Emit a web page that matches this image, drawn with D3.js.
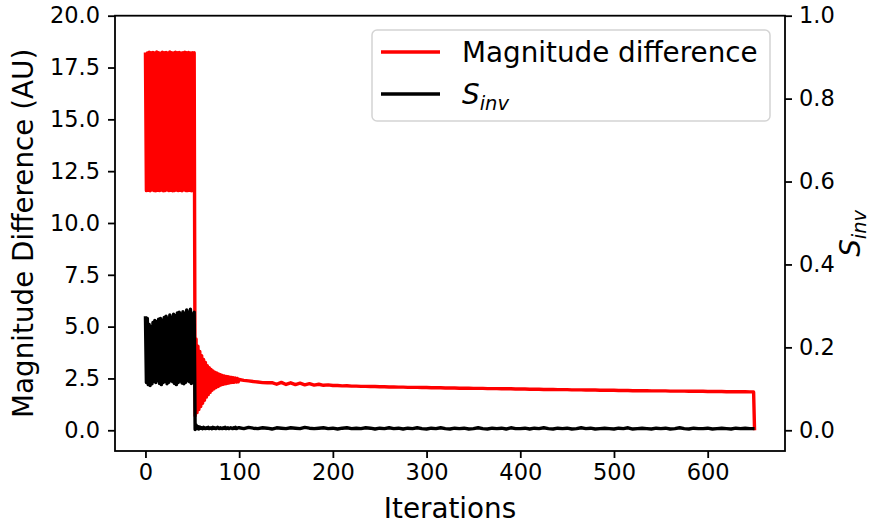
<!DOCTYPE html>
<html>
<head>
<meta charset="utf-8">
<script src="https://cdn.jsdelivr.net/npm/d3@7"></script>
<style>
  body { margin: 0; background: #fff; }
  svg { font-family: "DejaVu Sans", sans-serif; }
</style>
</head>
<body>
<svg id="chart-svg" width="872" height="528"></svg>
<script>
// iteration grid: every step up to 99, then every 5th step, then the last two steps
const iterations = d3.range(0, 100).concat(d3.range(100, 650, 5), [649, 650]);

// magnitude difference (left axis, AU)
const magnitudeDiff = [
  18.22, 11.56, 18.2, 11.58, 18.24, 11.55, 18.21, 11.6, 18.23, 11.57,
  18.2, 11.55, 18.25, 11.58, 18.22, 11.56, 18.19, 11.59, 18.24, 11.55,
  18.21, 11.57, 18.23, 11.6, 18.2, 11.56, 18.25, 11.58, 18.22, 11.55,
  18.2, 11.57, 18.24, 11.59, 18.21, 11.56, 18.23, 11.58, 18.2, 11.55,
  18.22, 11.6, 18.24, 11.57, 18.21, 11.56, 18.23, 11.58, 18.2, 11.55,
  18.22, 11.57, 18.21,
  0.7, 4.4, 0.85, 4.05, 1.0, 3.8, 1.15, 3.6, 1.3, 3.42,
  1.45, 3.27, 1.6, 3.12, 1.72, 3.02, 1.83, 2.93, 1.93, 2.86,
  2.0, 2.8, 2.06, 2.76, 2.11, 2.72, 2.15, 2.68, 2.19, 2.65,
  2.22, 2.62, 2.24, 2.6, 2.26, 2.58, 2.28, 2.56, 2.3, 2.55,
  2.31, 2.53, 2.32, 2.52, 2.33, 2.5, 2.34,
  // 100 .. 645 step 5
  2.45, 2.41, 2.38, 2.35, 2.33, 2.30, 2.29, 2.30, 2.22, 2.31,
  2.21, 2.29, 2.20, 2.27, 2.19, 2.25, 2.18, 2.22, 2.17, 2.19,
  2.16, 2.16, 2.14, 2.15, 2.13, 2.13, 2.12, 2.12, 2.11, 2.11,
  2.10, 2.10, 2.09, 2.09, 2.08, 2.08, 2.07, 2.07, 2.07, 2.06,
  2.06, 2.05, 2.05, 2.05, 2.04, 2.04, 2.04, 2.03, 2.03, 2.03,
  2.02, 2.02, 2.02, 2.01, 2.01, 2.01, 2.00, 2.00, 2.00, 1.99,
  1.99, 1.99, 1.98, 1.98, 1.98, 1.97, 1.97, 1.97, 1.96, 1.96,
  1.96, 1.95, 1.95, 1.95, 1.94, 1.94, 1.94, 1.93, 1.93, 1.93,
  1.93, 1.92, 1.92, 1.92, 1.91, 1.91, 1.91, 1.91, 1.90, 1.90,
  1.90, 1.90, 1.89, 1.89, 1.89, 1.89, 1.88, 1.88, 1.88, 1.88,
  1.87, 1.87, 1.87, 1.87, 1.86, 1.86, 1.86, 1.86, 1.86, 1.85,
  1.85, 0.0
];

// S_inv (right axis)
const sInv = [
  0.275, 0.115, 0.27, 0.11, 0.255, 0.108, 0.25, 0.112, 0.26, 0.118,
  0.265, 0.115, 0.262, 0.12, 0.268, 0.113, 0.27, 0.11, 0.265, 0.115,
  0.272, 0.118, 0.275, 0.112, 0.27, 0.116, 0.278, 0.12, 0.272, 0.117,
  0.28, 0.113, 0.276, 0.11, 0.283, 0.115, 0.285, 0.119, 0.28, 0.114,
  0.286, 0.112, 0.282, 0.116, 0.29, 0.12, 0.284, 0.117, 0.292, 0.113,
  0.28, 0.118, 0.285,
  0.002, 0.013, 0.004, 0.009, 0.003, 0.008, 0.005, 0.006, 0.004, 0.007,
  0.005, 0.004, 0.006, 0.005, 0.007, 0.004, 0.005, 0.006, 0.004, 0.007,
  0.005, 0.006, 0.004, 0.005, 0.007, 0.005, 0.004, 0.006, 0.005, 0.004,
  0.006, 0.005, 0.007, 0.004, 0.005, 0.006, 0.004, 0.005, 0.006, 0.005,
  0.004, 0.006, 0.005, 0.007, 0.004, 0.005, 0.006,
  // 100 .. 645 step 5
  0.006, 0.004, 0.007, 0.005, 0.004, 0.006, 0.005, 0.003, 0.006, 0.005,
  0.004, 0.006, 0.005, 0.004, 0.007, 0.005, 0.004, 0.005, 0.006, 0.004,
  0.005, 0.003, 0.005, 0.006, 0.004, 0.005, 0.004, 0.006, 0.005, 0.003,
  0.005, 0.004, 0.006, 0.004, 0.005, 0.003, 0.005, 0.004, 0.006, 0.004,
  0.003, 0.005, 0.004, 0.006, 0.004, 0.003, 0.005, 0.004, 0.005, 0.003,
  0.004, 0.006, 0.004, 0.003, 0.005, 0.004, 0.005, 0.003, 0.006, 0.004,
  0.004, 0.005, 0.003, 0.005, 0.004, 0.006, 0.004, 0.003, 0.005, 0.004,
  0.005, 0.003, 0.004, 0.006, 0.004, 0.005, 0.003, 0.004, 0.005, 0.004,
  0.003, 0.005, 0.004, 0.006, 0.003, 0.004, 0.005, 0.004, 0.003, 0.005,
  0.004, 0.005, 0.003, 0.004, 0.006, 0.004, 0.003, 0.005, 0.004, 0.004,
  0.005, 0.003, 0.004, 0.005, 0.004, 0.003, 0.005, 0.004, 0.005, 0.004,
  0.004, 0.004
];

const xTicks = [0, 100, 200, 300, 400, 500, 600];
const leftTicks = [0, 2.5, 5, 7.5, 10, 12.5, 15, 17.5, 20];
const rightTicks = [0, 0.2, 0.4, 0.6, 0.8, 1.0];

const svg = d3.select("#chart-svg");
const plot = { left: 115, right: 785, top: 15.7, bottom: 451 };
const tickFont = 22.5;
const labelFont = 27.8;

if (magnitudeDiff.length !== iterations.length || sInv.length !== iterations.length) {
  console.error("length mismatch", iterations.length, magnitudeDiff.length, sInv.length);
}

const x = d3.scaleLinear().domain([-32.5, 682.5]).range([plot.left, plot.right]);
const yL = d3.scaleLinear().domain([-1.0, 20]).range([plot.bottom, plot.top]);
const yR = d3.scaleLinear().domain([-0.05, 1.0]).range([plot.bottom, plot.top]);

const redData = iterations.map((it, i) => ({ it, v: magnitudeDiff[i] }));
const blackData = iterations.map((it, i) => ({ it, v: sInv[i] }));

svg.append("path")
  .datum(redData)
  .attr("fill", "none")
  .attr("stroke", "#ff0000")
  .attr("stroke-width", 3.4)
  .attr("stroke-linejoin", "round")
  .attr("d", d3.line().x(d => x(d.it)).y(d => yL(d.v)));

svg.append("path")
  .datum(blackData)
  .attr("fill", "none")
  .attr("stroke", "#000")
  .attr("stroke-width", 3.4)
  .attr("stroke-linejoin", "round")
  .attr("d", d3.line().x(d => x(d.it)).y(d => yR(d.v)));

// axes
function styleAxis(g) {
  g.select(".domain").remove();
  g.selectAll(".tick line").attr("stroke", "#000").attr("stroke-width", 1.8);
  g.selectAll(".tick text").attr("fill", "#000").style("font-size", tickFont + "px")
    .style("font-family", "DejaVu Sans");
}

svg.append("g")
  .attr("transform", `translate(0,${plot.bottom})`)
  .call(d3.axisBottom(x).tickValues(xTicks).tickSize(7).tickPadding(6).tickFormat(d3.format("d")))
  .call(styleAxis);

svg.append("g")
  .attr("transform", `translate(${plot.left},0)`)
  .call(d3.axisLeft(yL).tickValues(leftTicks).tickSize(7).tickPadding(8).tickFormat(d3.format(".1f")))
  .call(styleAxis);

svg.append("g")
  .attr("transform", `translate(${plot.right},0)`)
  .call(d3.axisRight(yR).tickValues(rightTicks).tickSize(7).tickPadding(7).tickFormat(d3.format(".1f")))
  .call(styleAxis);

// frame
svg.append("rect")
  .attr("x", plot.left).attr("y", plot.top)
  .attr("width", plot.right - plot.left).attr("height", plot.bottom - plot.top)
  .attr("fill", "none").attr("stroke", "#000").attr("stroke-width", 1.8);

// axis labels
svg.append("text")
  .attr("x", (plot.left + plot.right) / 2).attr("y", 518)
  .attr("text-anchor", "middle")
  .style("font-size", labelFont + "px")
  .text("Iterations");

svg.append("text")
  .attr("transform", `translate(33,${(plot.top + plot.bottom) / 2}) rotate(-90)`)
  .attr("text-anchor", "middle")
  .style("font-size", labelFont + "px")
  .text("Magnitude Difference (AU)");

const rLabel = svg.append("text")
  .attr("transform", `translate(860,${(plot.top + plot.bottom) / 2}) rotate(-90)`)
  .attr("text-anchor", "middle")
  .style("font-size", labelFont + "px");
rLabel.append("tspan").style("font-style", "italic").text("S");
rLabel.append("tspan").style("font-style", "italic").style("font-size", "19.5px")
  .attr("dy", 6).text("inv");

// legend
const legend = svg.append("g");
legend.append("rect")
  .attr("x", 372).attr("y", 30).attr("width", 398).attr("height", 91).attr("rx", 5)
  .attr("fill", "#fff").attr("fill-opacity", 0.9)
  .attr("stroke", "#d4d4d4").attr("stroke-width", 1.5);

legend.append("line")
  .attr("x1", 381).attr("x2", 440).attr("y1", 52).attr("y2", 52)
  .attr("stroke", "#ff0000").attr("stroke-width", 3.4);
legend.append("text")
  .attr("x", 462).attr("y", 62)
  .style("font-size", labelFont + "px")
  .text("Magnitude difference");

legend.append("line")
  .attr("x1", 381).attr("x2", 440).attr("y1", 94).attr("y2", 94)
  .attr("stroke", "#000").attr("stroke-width", 3.4);
const lt = legend.append("text")
  .attr("x", 462).attr("y", 104)
  .style("font-size", labelFont + "px");
lt.append("tspan").style("font-style", "italic").text("S");
lt.append("tspan").style("font-style", "italic").style("font-size", "19.5px")
  .attr("dy", 6).text("inv");
</script>
</body>
</html>
